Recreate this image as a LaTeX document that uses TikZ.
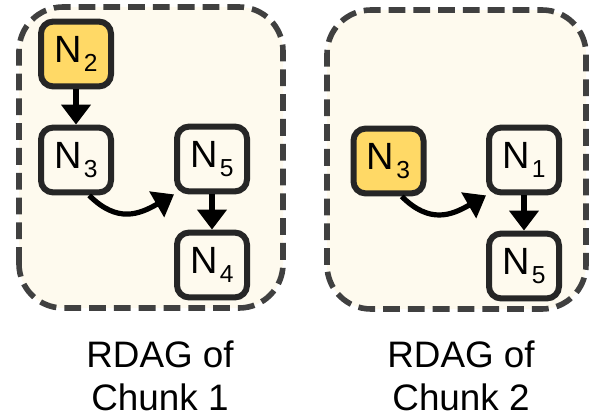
\documentclass[tikz,border=0pt]{standalone}
\usepackage{fontspec}
\setmainfont{Liberation Sans}
\usepackage{xcolor}
\usepackage{tikz}
\usetikzlibrary{arrows.meta, positioning}
\definecolor{mycream}{RGB}{254,250,238}
\definecolor{myyellow}{RGB}{255,217,102}
\definecolor{mydark}{RGB}{38,38,38}
\definecolor{mygrey}{RGB}{64,64,64}
\newcommand{\Nlbl}[1]{N\kern1.5pt\raisebox{-6.4pt}{\fontsize{17.5}{17.5}\selectfont #1}}
\tikzset{
  chunkbox/.style={draw=mygrey, fill=mycream, line width=0.14cm,
    dash pattern=on 0.42cm off 0.2cm, rounded corners=1.1cm},
  block/.style={rectangle, draw=mydark, fill=mycream,
    minimum width=1.75cm, minimum height=1.62cm, inner sep=0pt,
    rounded corners=0.3cm, line width=0.15cm,
    font=\fontsize{27}{27}\selectfont},
  hlblock/.style={block, fill=myyellow},
  arrow/.style={-{Triangle[length=0.5cm, width=0.72cm]},
    line width=0.13cm, color=black},
  caption/.style={anchor=base, inner sep=0pt,
    font=\fontsize{26.2}{26.2}\selectfont}
}

\begin{document}
\begin{tikzpicture}
  \useasboundingbox (0,0) rectangle (14.75,10.475);

  % --- Chunk 1 ---
  \draw[chunkbox] (0.475,2.775) rectangle (7.075,10.3);
  \node[hlblock] (c1n2) at (1.9,9.125) {\Nlbl{2}};
  \node[block]   (c1n3) at (1.9,6.475) {\Nlbl{3}};
  \node[block]   (c1n5) at (5.3,6.5)   {\Nlbl{5}};
  \node[block]   (c1n4) at (5.3,3.85)  {\Nlbl{4}};

  \draw[arrow] (c1n2) -- (c1n3);
  \draw[arrow] ([xshift=0.33cm]c1n3.south) to[out=-45, in=210, looseness=1.2] (c1n5.south west);
  \draw[arrow] (c1n5) -- (c1n4);

  \node[caption] (cap1a) at (4.0,1.3)   {RDAG of};
  \node[caption] (cap1b) at (4.0,0.225) {Chunk 1};

  % --- Chunk 2 ---
  \draw[chunkbox] (8.175,2.75) rectangle (14.65,10.225);
  \node[hlblock] (c2n3) at (9.7125,6.45) {\Nlbl{3}};
  \node[block]   (c2n1) at (13.1,6.475)  {\Nlbl{1}};
  \node[block]   (c2n5) at (13.1,3.825)  {\Nlbl{5}};

  \draw[arrow] ([xshift=0.33cm]c2n3.south) to[out=-45, in=210, looseness=1.2] (c2n1.south west);
  \draw[arrow] (c2n1) -- (c2n5);

  \node[caption] (cap2a) at (11.525,1.3)   {RDAG of};
  \node[caption] (cap2b) at (11.525,0.225) {Chunk 2};
\end{tikzpicture}
\end{document}
